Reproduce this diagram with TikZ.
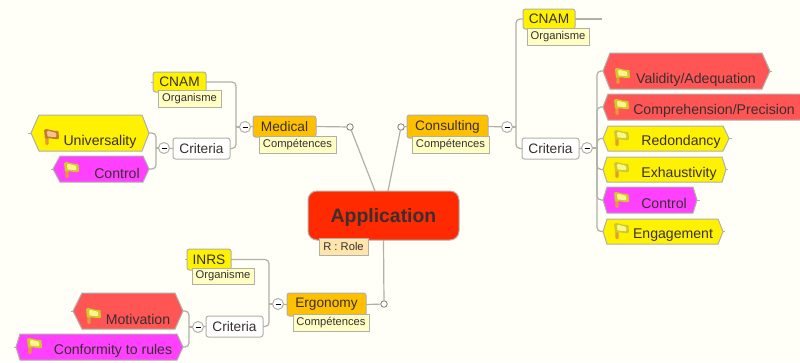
\documentclass[tikz,border=0pt]{standalone}
\usepackage{fontspec}
\setmainfont{Liberation Sans}
\definecolor{ivory}{HTML}{FFFFF8}
\definecolor{edge}{HTML}{B0B0A8}
\definecolor{ink}{HTML}{383030}
\definecolor{coral}{HTML}{FF5555}
\definecolor{magen}{HTML}{FF40FF}
\definecolor{topicor}{HTML}{FFC000}
\definecolor{apred}{HTML}{FF2A00}
\definecolor{notey}{HTML}{FFFFC4}
\definecolor{noter}{HTML}{FFE4AC}
\tikzset{
  conn/.style={draw=edge,line width=1.2pt,rounded corners=4pt},
  boxbase/.style={draw=edge,line width=1pt,inner sep=0pt,outer sep=0pt,text=ink,font=\fontsize{13.7}{16}\selectfont},
  topicbox/.style={boxbase,rounded corners=2.5pt,fill=#1},
  notebox/.style={boxbase,fill=#1,font=\fontsize{11.2}{13}\selectfont},
  hextext/.style={inner sep=0pt,text=ink,yshift=-1.5pt,font=\fontsize{14.1}{16}\selectfont},
  minuscirc/.style={circle,draw=edge,fill=white,line width=1pt,minimum size=11pt,inner sep=0pt,outer sep=0pt},
  dotcirc/.style={circle,draw=edge!70!black,fill=white,line width=.8pt,minimum size=6.5pt,inner sep=0pt,outer sep=0pt},
}
% named rectangular node given by its corners
\newcommand{\rbox}[7][]{%
  \pgfmathsetmacro{\rw}{#5-#3}\pgfmathsetmacro{\rh}{#6-#4}%
  \pgfmathsetmacro{\rx}{(#5+#3)/2}\pgfmathsetmacro{\ry}{(#6+#4)/2}%
  \node[#1,minimum width=\rw pt,minimum height=\rh pt] (#2) at (\rx,\ry) {#7};}
% hexagon with a named rectangular anchor node
\newcommand{\hexbox}[8]{%
  \pgfmathsetmacro{\hm}{(#4+#5)/2}\pgfmathsetmacro{\hl}{#2+#6}\pgfmathsetmacro{\hr}{#3-#7}%
  \pgfmathsetmacro{\hw}{#3-#2}\pgfmathsetmacro{\hh}{#5-#4}\pgfmathsetmacro{\hc}{(#2+#3)/2}%
  \draw[draw=edge,line width=1pt,fill=#8,line join=miter]
    (#2,\hm) -- (\hl,#4) -- (\hr,#4) -- (#3,\hm) -- (\hr,#5) -- (\hl,#5) -- cycle;
  \node[inner sep=0pt,outer sep=0pt,minimum width=\hw pt,minimum height=\hh pt] (#1) at (\hc,\hm) {};}
% flag marker
\newcommand{\flagmark}[4]{%
  \begin{scope}[shift={(#1,#2)}]
    \fill[#4] (2,3) -- (5.5,3) -- (5.5,15) .. controls (4.5,16.5) and (3,16.5) .. (2.5,15) -- cycle;
    \fill[#3!85!black,rounded corners=1pt]
      (1,0.5) .. controls (5,-.5) and (8,2) .. (15.5,2) -- (16,10) .. controls (11,10.5) and (7,8.5) .. (2,10) -- cycle;
    \fill[#3!55!white,rounded corners=1pt]
      (4,2) .. controls (7,1.5) and (9,3.5) .. (13,3.5) -- (13.5,8) .. controls (10,8.5) and (7,7) .. (4.5,8) -- cycle;
  \end{scope}}
\definecolor{flagy}{HTML}{F4EE30}
\definecolor{flago}{HTML}{E89038}
\definecolor{polec}{HTML}{E89A30}
\begin{document}
\begin{tikzpicture}[x=1pt,y=-1pt]
\useasboundingbox (0,0) rectangle (800,362);
\clip (0,0) rectangle (800,362);
\fill[ivory] (0,0) rectangle (800,362);

% ---- central
\rbox[topicbox=apred,rounded corners=9pt,font=\fontsize{19.4}{22}\selectfont\bfseries,text=ink]{app}{308}{191}{459}{240}{\rule{0pt}{17.5pt}Application}
\rbox[notebox=noter]{role}{319}{238}{368}{255}{R : Role}
\coordinate (appL) at (375,191);
\coordinate (appR) at (388,191);

% ---- Medical branch
\rbox[topicbox=topicor]{med}{253}{116}{316}{137}{Medical}
\rbox[notebox=notey]{medn}{259}{136}{336}{153}{Compétences}
\rbox[topicbox=yellow]{cnamL}{153}{72}{206}{92}{CNAM}
\rbox[notebox=notey]{cnamLn}{158}{90}{221}{107}{Organisme}
\rbox[topicbox=white]{critL}{173}{138}{230}{159}{Criteria}
\node[minuscirc] (mMed) at (245,127) {\rule{5pt}{1pt}};
\node[minuscirc] (mCritL) at (164,148) {\rule{5pt}{1pt}};
\node[dotcirc] (dMed) at (350,127) {};
\coordinate (jMed) at (236,127);
\coordinate (jCritL) at (156,148);
\hexbox{uni}{31}{149}{115}{151}{8}{7}{yellow}
\node[hextext] (unit) at (100,140) {Universality};
\flagmark{43}{129}{flago}{polec}
\hexbox{ctlL}{53}{149}{156}{182}{7}{6}{magen}
\node[hextext] (ctlLt) at (117,172) {Control};
\flagmark{63}{162}{flagy}{polec}

% ---- Consulting branch
\rbox[topicbox=topicor]{con}{407}{115}{488}{138}{Consulting}
\rbox[notebox=notey]{conn}{412}{136}{489}{153}{Compétences}
\rbox[topicbox=yellow]{cnamR}{523}{9}{575}{29}{CNAM}
\rbox[notebox=notey]{cnamRn}{527}{28}{589}{45}{Organisme}
\rbox[topicbox=white]{critR}{522}{138}{579}{159}{Criteria}
\node[minuscirc] (mCon) at (507,127) {\rule{5pt}{1pt}};
\node[minuscirc] (mCritR) at (587,148) {\rule{5pt}{1pt}};
\node[dotcirc] (dCon) at (401,127) {};
\coordinate (jCon) at (516,127);
\coordinate (jCritR) at (597,148);
\hexbox{val}{603}{770}{53}{89}{7}{8}{coral}
\node[hextext] (valt) at (696,78) {Validity/Adequation};
\flagmark{614}{68}{flagy}{polec}
\hexbox{com}{603}{806}{94}{120}{5}{6}{coral}
\node[hextext] (comt) at (714,109) {Comprehension/Precision};
\flagmark{613}{99}{flagy}{polec}
\hexbox{red}{603}{729}{126}{151}{5}{6}{yellow}
\node[hextext] (redt) at (681,140) {Redondancy};
\flagmark{613}{130}{flagy}{polec}
\hexbox{exh}{603}{726}{157}{182}{4}{4}{yellow}
\node[hextext] (exht) at (679,172) {Exhaustivity};
\flagmark{613}{162}{flagy}{polec}
\hexbox{ctlR}{603}{697}{187}{213}{4}{4}{magen}
\node[hextext] (ctlRt) at (664,202) {Control};
\flagmark{613}{192}{flagy}{polec}
\hexbox{eng}{603}{723}{219}{244}{4}{5}{yellow}
\node[hextext] (engt) at (673,234) {Engagement};
\flagmark{613}{223}{flagy}{polec}

% ---- Ergonomy branch
\rbox[topicbox=topicor]{erg}{287}{293}{366}{316}{Ergonomy}
\rbox[notebox=notey]{ergn}{293}{314}{369}{331}{Compétences}
\rbox[topicbox=yellow]{inrs}{187}{249}{231}{270}{INRS}
\rbox[notebox=notey]{inrsn}{192}{268}{254}{284}{Organisme}
\rbox[topicbox=white]{critE}{206}{316}{263}{337}{Criteria}
\node[minuscirc] (mErg) at (278,304) {\rule{5pt}{1pt}};
\node[minuscirc] (mCritE) at (198,327) {\rule{5pt}{1pt}};
\node[dotcirc] (dErg) at (384,304) {};
\coordinate (jErg) at (269,304);
\coordinate (jCritE) at (189,327);
\hexbox{mot}{73}{183}{293}{329}{9}{8}{coral}
\node[hextext] (mott) at (138,318) {Motivation};
\flagmark{85}{308}{flagy}{polec}
\hexbox{cfm}{16}{183}{334}{360}{4}{6}{magen}
\node[hextext] (cfmt) at (113,349) {Conformity to rules};
\flagmark{26}{338}{flagy}{polec}

% ---- connectors
\draw[conn] (med.east) -- (dMed);
\draw[conn] (dMed) -- (appL);
\draw[conn] (dCon) -- (appR);
\draw[conn] (dCon) -- (con.west);
\draw[conn] (app.south) -- (dErg);
\draw[conn] (erg.east) -- (dErg);

\draw[conn] (mMed) -- (med.west);
\draw[conn] (cnamL.east) -| (jMed) |- (critL.east);
\draw[conn] (jMed) -- (mMed);
\draw[conn] (critL.west) -- (mCritL);
\draw[conn] (mCritL) -- (jCritL);
\draw[conn] (uni.east) -| (jCritL) |- (ctlL.east);

\draw[conn] (con.east) -- (mCon);
\draw[conn] (mCon) -- (jCon);
\draw[conn] (cnamR.west) -| (jCon) |- (critR.west);
\draw[conn] (critR.east) -- (mCritR);
\draw[conn] (mCritR) -- (jCritR);
\foreach \h in {val,com,red,exh,ctlR,eng} \draw[conn] (\h.west) -| (jCritR);

\draw[conn] (mErg) -- (erg.west);
\draw[conn] (jErg) -- (mErg);
\draw[conn] (inrs.east) -| (jErg) |- (critE.east);
\draw[conn] (critE.west) -- (mCritE);
\draw[conn] (mCritE) -- (jCritE);
\draw[conn] (mot.east) -| (jCritE) |- (cfm.east);

% ---- short free stubs
\draw[conn] (cnamR.east) -- ++(27,0);
\foreach \h/\side/\d in {cnamL/west/-2,inrs/west/-2,uni/west/-3,ctlL/west/-2,mot/west/-2,cfm/west/-2,val/east/2,red/east/3,exh/east/2,ctlR/east/3,eng/east/2}
  \draw[edge,line width=.8pt] (\h.\side) -- ++(\d,0);
\end{tikzpicture}
\end{document}
